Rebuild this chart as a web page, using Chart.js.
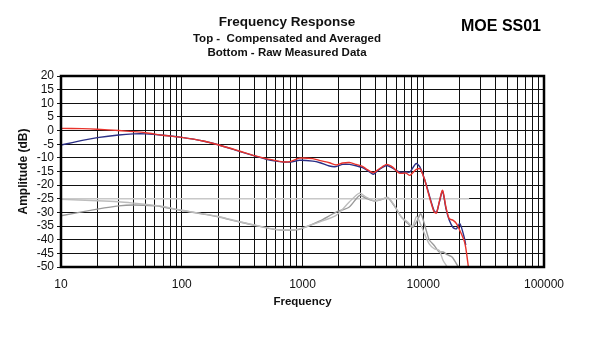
<!DOCTYPE html>
<html>
<head>
<meta charset="utf-8">
<script src="https://cdn.jsdelivr.net/npm/chart.js@4"></script>
<style>
  body { margin: 0; background: #fff; }
  #wrap { position: relative; width: 600px; height: 337px; font-family: "Liberation Sans", Arial, sans-serif; color: #111; }
  .txt { position: absolute; text-align: center; font-weight: bold; white-space: pre; }
</style>
</head>
<body>
<div id="wrap">
  <canvas id="fr" width="600" height="337"></canvas>
  <div class="txt" style="left:187px; width:200px; top:13px; font-size:13.5px; line-height:17px;">Frequency Response</div>
  <div class="txt" style="left:187px; width:200px; top:31px; font-size:11.5px; line-height:14px;">Top -  Compensated and Averaged</div>
  <div class="txt" style="left:187px; width:200px; top:45px; font-size:11.5px; line-height:14px;">Bottom - Raw Measured Data</div>
  <div class="txt" style="left:451px; width:100px; top:16px; font-size:16px; line-height:20px; color:#000;">MOE SS01</div>
</div>
<script>
// compensated / averaged curves (top)
var topFreqs = [10, 15, 20, 30, 40, 50, 70, 100, 150, 200, 300, 400, 500, 600, 700, 800, 944, 1216, 1400, 1670, 1900, 2150, 2450, 2780, 3100, 3360, 3860, 4330, 4980, 5580, 6330, 7200, 7760, 8700, 9400, 10200, 10860, 11570, 12330, 12880, 13550, 14450, 15400, 16400, 17700, 18850, 20100, 21800, 22500, 23650];
var redVals = [0.8, 0.7, 0.5, 0, -0.4, -0.8, -1.7, -2.5, -3.8, -5.2, -7.5, -9.2, -10.3, -11.0, -11.5, -11.3, -10.1, -10.3, -11.0, -11.8, -12.6, -11.9, -11.7, -12.4, -13.0, -14.0, -15.4, -14.0, -12.4, -13.4, -15.6, -15.6, -16.4, -14.3, -14.0, -17.6, -21.9, -26.2, -29.9, -30.2, -26.2, -21.9, -28.0, -32.3, -32.9, -34.1, -36.6, -40.3, -43.0, -50];
var blueVals = [-5.3, -3.6, -2.6, -1.6, -1.2, -1.2, -1.7, -2.5, -3.8, -5.2, -7.6, -9.3, -10.5, -11.2, -11.5, -11.5, -10.9, -11.2, -11.8, -13.0, -13.2, -12.4, -12.4, -12.9, -13.5, -14.3, -16.0, -14.2, -12.8, -13.8, -15.2, -15.2, -15.2, -12.1, -13.4, -17.6, -21.5, -25.8, -29.5, -30.0, -26.5, -22.2, -28.5, -32.8, -35.6, -36.0, -34.1, -39.0, -42.0, null];

// raw measured curves (bottom)
var rawFreqs = [10, 20, 30, 40, 60, 70, 100, 150, 200, 300, 400, 600, 800, 944, 1380, 1900, 2440, 2960, 3360, 3940, 4480, 5070, 5760, 6540, 7420, 8150, 8800, 9550, 10400, 11200, 12330, 13550, 14600, 15800, 17400, 19500];
var rawA = [-25.2, -25.7, -26.1, -26.6, -27.4, -27.8, -29.2, -30.5, -31.5, -33.4, -34.6, -36.2, -36.4, -36.0, -33.5, -31.1, -26.2, -22.9, -24.4, -25.8, -25.3, -24.4, -27.4, -31.5, -33.5, -35.1, -31.5, -34.5, -38.5, -41.5, -43.3, -43.9, -47.6, -50, null, null];
var rawB = [-31.2, -28.8, -27.6, -27.3, -27.6, -28.0, -29.3, -30.6, -31.6, -33.5, -34.7, -36.3, -36.5, -36.2, -33.2, -29.9, -28.0, -23.8, -24.8, -25.8, -25.3, -24.6, -27.6, -31.5, -34.0, -35.5, -33.5, -30.5, -35.4, -40.0, -42.1, -44.5, -44.5, -45.5, -46.4, -50];

// flat grey reference at -25
var refFreqs = [10, 24000];
var refVals = [-25, -25];

var yTicks = { min: -50, max: 20, step: 5 };

function toPoints(xs, ys) {
    var pts = [];
    for (var i = 0; i < xs.length; i++) {
        if (ys[i] !== null && ys[i] !== undefined) pts.push({x: xs[i], y: ys[i]});
    }
    return pts;
}

function lineSet(label, xs, ys, color) {
    return {
        label: label,
        data: toPoints(xs, ys),
        borderColor: color,
        borderWidth: 1.4,
        pointRadius: 0,
        tension: 0.25,
        fill: false
    };
}

var framePlugin = {
    id: 'frame',
    afterDraw: function(chart) {
        var a = chart.chartArea;
        var ctx = chart.ctx;
        ctx.save();
        ctx.strokeStyle = '#000';
        ctx.lineWidth = 2.5;
        ctx.strokeRect(a.left, a.top, a.right - a.left, a.bottom - a.top);
        ctx.restore();
    }
};

Chart.defaults.font.family = '"Liberation Sans", Arial, sans-serif';
Chart.defaults.color = '#111';

new Chart(document.getElementById('fr'), {
    type: 'line',
    data: {
        datasets: [
            lineSet('Compensated (red)', topFreqs, redVals, '#e8322b'),
            lineSet('Compensated (blue)', topFreqs, blueVals, '#2b2f86'),
            lineSet('Raw A', rawFreqs, rawA, '#bdbdbd'),
            lineSet('Raw B', rawFreqs, rawB, '#9a9a9a'),
            lineSet('Reference', refFreqs, refVals, '#c8c8c8')
        ]
    },
    options: {
        responsive: false,
        animation: false,
        layout: { padding: { top: 76, right: 56, bottom: 0, left: 0 } },
        plugins: { legend: { display: false }, tooltip: { enabled: false } },
        scales: {
            x: {
                type: 'logarithmic',
                min: 10,
                max: 100000,
                border: { display: false },
                grid: { color: '#111', lineWidth: 1, drawTicks: false },
                ticks: {
                    autoSkip: false,
                    maxRotation: 0,
                    minRotation: 0,
                    padding: 10,
                    font: { size: 12 },
                    callback: function(value) {
                        var e = Math.log10(value);
                        return Math.abs(e - Math.round(e)) < 1e-9 ? String(value) : '';
                    }
                },
                afterBuildTicks: function(scale) {
                    var ticks = [];
                    for (var e = 1; e < 5; e++) {
                        for (var m = 1; m < 10; m++) ticks.push({value: m * Math.pow(10, e)});
                    }
                    ticks.push({value: 100000});
                    scale.ticks = ticks;
                },
                afterFit: function(scale) { scale.height = 70; },
                title: {
                    display: true,
                    text: 'Frequency',
                    font: { size: 11.5, weight: 'bold' },
                    padding: { top: 0, bottom: 28 }
                }
            },
            y: {
                min: yTicks.min,
                max: yTicks.max,
                border: { display: false },
                grid: { color: '#111', lineWidth: 1, tickLength: 4 },
                ticks: { stepSize: yTicks.step, autoSkip: false, padding: 3, font: { size: 12 } },
                afterFit: function(scale) { scale.width = 61; },
                title: {
                    display: true,
                    text: 'Amplitude (dB)',
                    font: { size: 12, weight: 'bold' },
                    padding: { top: 16, bottom: 0 }
                }
            }
        }
    },
    plugins: [framePlugin]
});
</script>
</body>
</html>
